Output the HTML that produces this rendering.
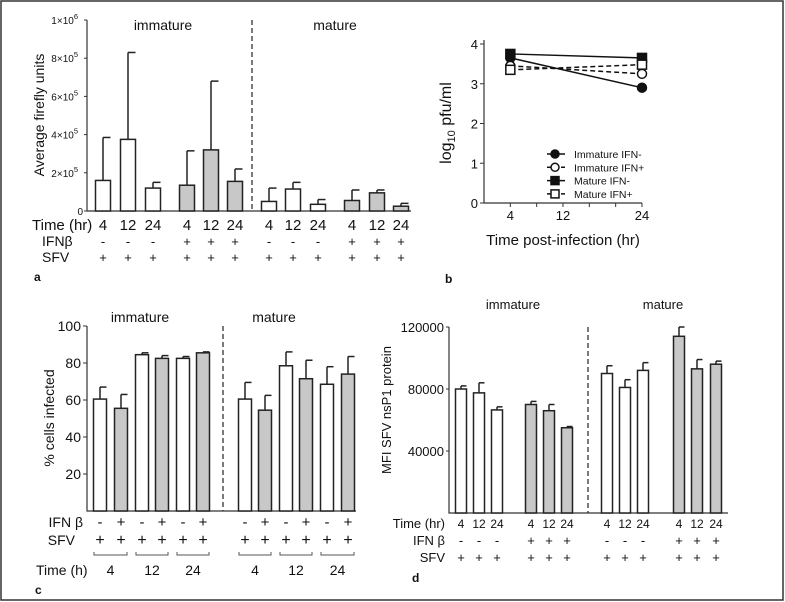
<!DOCTYPE html>
<html><head><meta charset="utf-8"><style>
html,body{margin:0;padding:0;background:#fff;}
svg{display:block;font-family:"Liberation Sans",Arial,sans-serif;}
</style></head><body>
<svg id="fig" width="785" height="602" viewBox="0 0 785 602" xmlns="http://www.w3.org/2000/svg">
<rect x="1" y="1" width="782" height="599" fill="#fff" stroke="#333" stroke-width="1.5"/>
<g id="pa"></g>
<g id="pb"></g>
<g id="pc"></g>
<g id="pd"></g>
</svg>
<script>
// Panel a data
const aVals=[160000,375000,120000,135000,320000,155000,50000,115000,35000,55000,95000,25000];
const aErr=[385000,830000,150000,315000,680000,220000,120000,150000,60000,110000,110000,40000];
const aTimes=["4","12","24","4","12","24","4","12","24","4","12","24"];
const aIfn=["-","-","-","+","+","+","-","-","-","+","+","+"];
const aTickVals=[0,200000,400000,600000,800000,1000000];
const aTickLabels=["0","2×10","4×10","6×10","8×10","1×10"];
const aTickExp=["","5","5","5","5","6"];
// Panel b data
const bTimes=[4,24];
const bImmNeg=[3.65,2.9];
const bImmPos=[3.45,3.25];
const bMatNeg=[3.75,3.65];
const bMatPos=[3.35,3.48];
const bYTicks=[0,1,2,3,4];
const bXTickLabels=[4,12,24];
// Panel c data
const cVals=[60.5,55.5,84.5,82.5,82.5,85.5,60.5,54.5,78.5,71.5,68.5,74];
const cErr=[67,63,85.5,84,83.5,86,69.5,62.5,86,81.5,78,83.5];
const cIfn=["-","+","-","+","-","+","-","+","-","+","-","+"];
const cYTicks=[20,40,60,80,100];
const cTimes=["4","12","24","4","12","24"];
// Panel d data
const dVals=[80000,77500,66500,70000,66000,55000,90000,81000,92000,114000,93000,96000];
const dErr=[82000,84000,68500,72000,70000,55800,95000,86000,97000,120000,99000,98000];
const dTimes=["4","12","24","4","12","24","4","12","24","4","12","24"];
const dIfn=["-","-","-","+","+","+","-","-","-","+","+","+"];
const dYTicks=[40000,80000,120000];

const NS="http://www.w3.org/2000/svg";
function mk(parent,tag,attrs,text){const e=document.createElementNS(NS,tag);for(const k in attrs)e.setAttribute(k,attrs[k]);if(text!==undefined)e.textContent=text;parent.appendChild(e);return e;}
function lin(d0,d1,r0,r1){return v=>r0+(v-d0)*(r1-r0)/(d1-d0);}

function bars(g,centers,vals,errs,fillFn,y,w,prefix){
  vals.forEach((v,i)=>{
    const cx=centers[i],top=y(v),et=y(errs[i]);
    const l=mk(g,'line',{x1:cx,x2:cx,y1:top,y2:et,stroke:'#222','stroke-width':1.5});
    
    
    const c=mk(g,'line',{x1:cx,x2:cx+w/2,y1:et,y2:et,stroke:'#222','stroke-width':1.5});
    
    
    const r=mk(g,'rect',{x:cx-w/2,y:top,width:w,height:y(0)-top,fill:fillFn(i),stroke:'#222','stroke-width':1.5});
    
    
  });
}
function txt(g,x,y,s,size,anchor,name,extra){
  const t=mk(g,'text',Object.assign({x:x,y:y,'font-size':size,'text-anchor':anchor||'middle',fill:'#111'},extra||{}),s);
  
  
  return t;
}

// ---------- Panel a ----------
(function(){
  const g=document.getElementById('pa');
  const y=lin(0,1000000,211,20);
  const cx=[103,128,153,187,211,235,269,293,318,352,377,401];
  const ax=mk(g,'path',{d:'M87,20 V211 H411',fill:'none',stroke:'#333','stroke-width':1.2});
  
  aTickVals.forEach((v,i)=>{
    mk(g,'line',{x1:84,x2:87,y1:y(v),y2:y(v),stroke:'#333'});
    const t=txt(g,i===0?83:78,y(v)+4,aTickLabels[i],10,'end','a-y-tick-'+i);
    if(aTickExp[i]){mk(t,'tspan',{dy:-5,'font-size':7.5},aTickExp[i]);}
  });
  txt(g,44,115,'Average firefly units',14,'middle','a-y-axis-title',{transform:'rotate(-90 44 115)'});
  const dl=mk(g,'line',{x1:252,x2:252,y1:20,y2:211,stroke:'#333','stroke-width':1.3,'stroke-dasharray':'5,3'});
  
  txt(g,163,30,'immature',14,'middle','a-immature-title');
  txt(g,335,30,'mature',14,'middle','a-mature-title');
  bars(g,cx,aVals,aErr,i=>(i%6)<3?'#fff':'#c8c8c8',y,15,'a');
  txt(g,32,230,'Time (hr)',15,'start','a-time-row-label');
  txt(g,42,246,'IFNβ',14,'start','a-ifn-row-label');
  txt(g,42,262,'SFV',14,'start','a-sfv-row-label');
  cx.forEach((c,i)=>{
    txt(g,c,230,aTimes[i],15,'middle','a-time-'+(i+1));
    txt(g,c,246,aIfn[i],13,'middle','a-ifn-'+(i+1));
    txt(g,c,262,'+',13,'middle','a-sfv-'+(i+1));
  });
  txt(g,34,281,'a',12,'start','a-panel-letter',{'font-weight':'bold'});
})();

// ---------- Panel b ----------
(function(){
  const g=document.getElementById('pb');
  const x=lin(0,24,484,642), y=lin(0,4,203,44);
  const ax=mk(g,'path',{d:'M484,40 V203 H642',fill:'none',stroke:'#333','stroke-width':1.2});
  
  bYTicks.forEach((v,i)=>{mk(g,'line',{x1:480,x2:484,y1:y(v),y2:y(v),stroke:'#333'});txt(g,478,y(v)+5,String(v),13,'end','b-y-tick-'+i);});
  [4,8,12,16,20,24].forEach(t=>mk(g,'line',{x1:x(t),x2:x(t),y1:203,y2:207,stroke:'#333'}));
  bXTickLabels.forEach((t,i)=>txt(g,x(t),220,String(t),13,'middle','b-x-tick-'+i));
  const yl=txt(g,451,123,'log',16,'middle','b-y-axis-title',{transform:'rotate(-90 451 123)'});
  mk(yl,'tspan',{dy:4,'font-size':11},'10');mk(yl,'tspan',{dy:-4},' pfu/ml');
  txt(g,563,245,'Time post-infection (hr)',15,'middle','b-x-axis-title');
  const series=[[bImmNeg,'circle',true,false,'immature-ifn-neg'],[bImmPos,'circle',false,true,'immature-ifn-pos'],[bMatNeg,'square',true,false,'mature-ifn-neg'],[bMatPos,'square',false,true,'mature-ifn-pos']];
  const labels=['Immature IFN-','Immature IFN+','Mature IFN-','Mature IFN+'];
  series.forEach((s,k)=>{
    const pts=s[0].map((v,i)=>x(bTimes[i])+','+y(v)).join(' ');
    const pl=mk(g,'polyline',{points:pts,fill:'none',stroke:'#111','stroke-width':1.5,'stroke-dasharray':s[3]?'5,3':'none'});
    
    s[0].forEach((v,i)=>{
      const px=x(bTimes[i]),py=y(v);let m;
      if(s[1]==='circle')m=mk(g,'circle',{cx:px,cy:py,r:4.5,fill:s[2]?'#111':'#fff',stroke:'#111','stroke-width':1.5});
      else m=mk(g,'rect',{x:px-4.5,y:py-4.5,width:9,height:9,fill:s[2]?'#111':'#fff',stroke:'#111','stroke-width':1.5});
      
    });
    const ly=154+k*13.3;
    const le=mk(g,'g',{});
    mk(le,'line',{x1:547,x2:565,y1:ly,y2:ly,stroke:'#111','stroke-width':1.5,'stroke-dasharray':s[3]?'4,3':'none'});
    if(s[1]==='circle')mk(le,'circle',{cx:555,cy:ly,r:4,fill:s[2]?'#111':'#fff',stroke:'#111','stroke-width':1.5});
    else mk(le,'rect',{x:551,y:ly-4,width:8,height:8,fill:s[2]?'#111':'#fff',stroke:'#111','stroke-width':1.5});
    txt(le,574,ly+4,labels[k],10.5,'start','b-legend-label-'+(k+1));
  });
  txt(g,445,283,'b',12,'start','b-panel-letter',{'font-weight':'bold'});
})();

// ---------- Panel c ----------
(function(){
  const g=document.getElementById('pc');
  const y=lin(0,100,511,326);
  const cx=[100,121,142,162,183,203,245,265,286,306,327,348];
  const ax=mk(g,'path',{d:'M87,326 V511 H356',fill:'none',stroke:'#333','stroke-width':1.2});
  
  cYTicks.forEach((v,i)=>{mk(g,'line',{x1:83,x2:87,y1:y(v),y2:y(v),stroke:'#333'});txt(g,81,y(v)+5,String(v),14,'end','c-y-tick-'+i);});
  txt(g,54,418,'% cells infected',14,'middle','c-y-axis-title',{transform:'rotate(-90 54 418)'});
  const dl=mk(g,'line',{x1:223,x2:223,y1:326,y2:511,stroke:'#333','stroke-width':1.3,'stroke-dasharray':'5,3'});
  
  txt(g,140,322,'immature',14,'middle','c-immature-title');
  txt(g,274,322,'mature',14,'middle','c-mature-title');
  bars(g,cx,cVals,cErr,i=>i%2===0?'#fff':'#c8c8c8',y,13,'c');
  txt(g,83,527,'IFN β',14,'end','c-ifn-row-label');
  txt(g,75,545,'SFV',14,'end','c-sfv-row-label');
  txt(g,36,575,'Time (h)',14,'start','c-time-row-label');
  cx.forEach((c,i)=>{txt(g,c,527,cIfn[i],15,'middle','c-ifn-'+(i+1));txt(g,c,545,'+',16,'middle','c-sfv-'+(i+1));});
  for(let k=0;k<6;k++){
    const a=cx[2*k]-6,b=cx[2*k+1]+6;
    const br=mk(g,'path',{d:`M${a},552 V555 H${b} V552`,fill:'none',stroke:'#555','stroke-width':1});
    
    txt(g,(cx[2*k]+cx[2*k+1])/2,575,cTimes[k],14,'middle','c-time-'+(k+1));
  }
  txt(g,35,594,'c',12,'start','c-panel-letter',{'font-weight':'bold'});
})();

// ---------- Panel d ----------
(function(){
  const g=document.getElementById('pd');
  const y=lin(0,120000,513,327);
  const cx=[461,479,497,531,549,567,607,625,643,679,697,716];
  const ax=mk(g,'path',{d:'M449,327 V513 H728',fill:'none',stroke:'#333','stroke-width':1.2});
  
  dYTicks.forEach((v,i)=>{mk(g,'line',{x1:446,x2:449,y1:y(v),y2:y(v),stroke:'#333'});txt(g,444,y(v)+5,String(v),13,'end','d-y-tick-'+i);});
  txt(g,391,410,'MFI SFV nsP1 protein',13,'middle','d-y-axis-title',{transform:'rotate(-90 391 410)'});
  const dl=mk(g,'line',{x1:588,x2:588,y1:327,y2:513,stroke:'#333','stroke-width':1.3,'stroke-dasharray':'5,3'});
  
  txt(g,513,309,'immature',13,'middle','d-immature-title');
  txt(g,663,309,'mature',13,'middle','d-mature-title');
  bars(g,cx,dVals,dErr,i=>(i%6)<3?'#fff':'#c8c8c8',y,11,'d');
  txt(g,445,528,'Time (hr)',13,'end','d-time-row-label');
  txt(g,445,545,'IFN β',13,'end','d-ifn-row-label');
  txt(g,445,562,'SFV',13,'end','d-sfv-row-label');
  cx.forEach((c,i)=>{
    txt(g,c,528,dTimes[i],12,'middle','d-time-'+(i+1));
    txt(g,c,545,dIfn[i],13,'middle','d-ifn-'+(i+1));
    txt(g,c,562,'+',13,'middle','d-sfv-'+(i+1));
  });
  txt(g,412,582,'d',12,'start','d-panel-letter',{'font-weight':'bold'});
})();
</script>
</body></html>
